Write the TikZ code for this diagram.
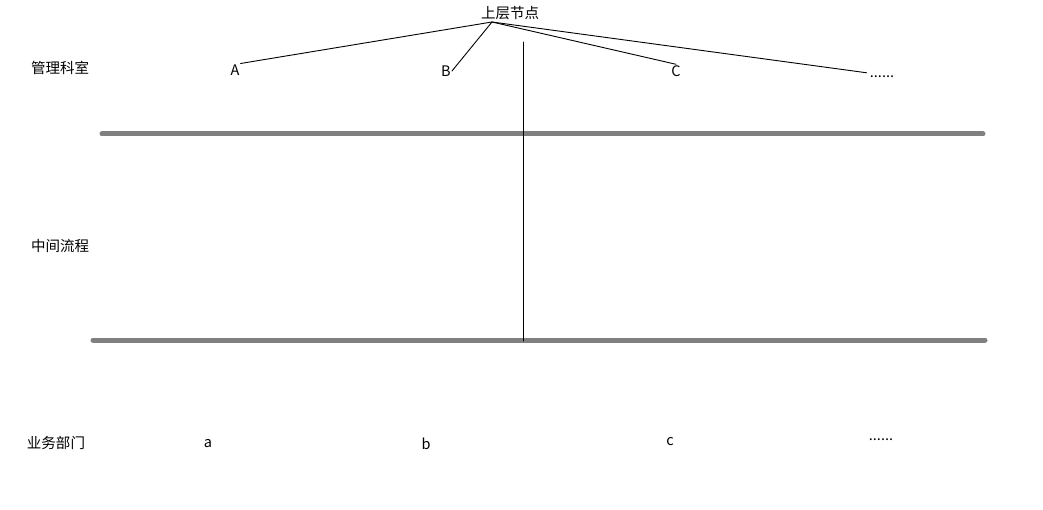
\documentclass[tikz,border=0pt]{standalone}
\usepackage{fontspec}
\setmainfont{Noto Sans CJK SC}
\usepackage{tikz}
\tikzset{>=latex}
\usepackage{xcolor}
\definecolor{mygray}{HTML}{808080}

\begin{document}
\begin{tikzpicture}[x=1pt, y=-1pt,
                    line cap=round, line join=round,
                    label/.style={inner sep=1pt, font=\fontsize{14.5}{16}\selectfont},
                    branch/.style={black, line width=0.9pt},
                    layer/.style={mygray, line width=5pt}]
  \useasboundingbox (0,0) rectangle (1043,510);

  % LEFT TITLES
  \node[label] (mgmt)   at (60,68)  {管理科室};
  \node[label] (middle) at (60,246) {中间流程};
  \node[label] (dept)   at (56,443) {业务部门};

  % UPPER NODE AND OFFICES
  \node[label] (upper) at (510,13) {上层节点};
  \coordinate (root) at (492,22);
  \node[label] (A)   at (235,70) {A};
  \node[label] (B)   at (446,71) {B};
  \node[label] (C)   at (676,71) {C};
  \node[label, inner sep=3pt] (dotsU) at (882,77) {......};

  \draw[branch] (root) -- (A.north east);
  \draw[branch] (root) -- (B.east);
  \draw[branch] (root) -- (C.north);
  \draw[branch] (root) -- (dotsU.north west);

  % LAYER LINES
  \draw[layer] (102,134) -- (983,134);
  \draw[layer] (93,340) -- (985,340);
  \draw[branch] (523,42) -- (523,341);

  % DEPARTMENTS
  \node[label] (a) at (208,444) {a};
  \node[label] (b) at (426,444) {b};
  \node[label] (c) at (670,442) {c};
  \node[label] (dotsL) at (881,440) {......};

\end{tikzpicture}
\end{document}
